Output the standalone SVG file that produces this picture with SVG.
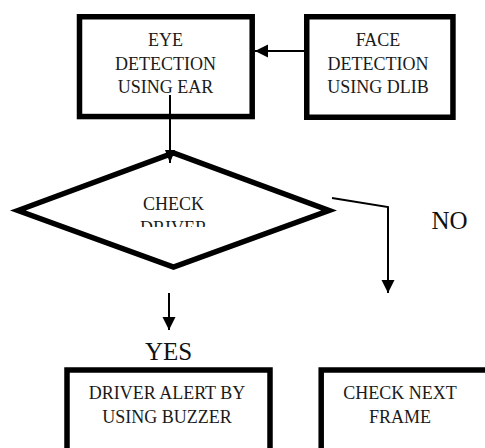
<svg xmlns="http://www.w3.org/2000/svg" width="485" height="448" viewBox="0 0 485 448">
<style>
.box{fill:#ffffff;stroke:#000000;stroke-width:5.5;stroke-linejoin:miter}
.t{font-family:"Liberation Serif","Times New Roman",serif;font-size:18px;fill:#1a1a1a;text-anchor:middle}
.big{font-family:"Liberation Serif","Times New Roman",serif;font-size:25px;fill:#111111}
.conn{fill:none;stroke:#000000;stroke-width:2}
</style>
<defs>
<marker id="ah" markerUnits="userSpaceOnUse" markerWidth="14" markerHeight="14" refX="13" refY="6.5" orient="auto">
<path d="M0,0 L13,6.5 L0,13 Z" fill="#000000"/>
</marker>
<marker id="ahn" markerUnits="userSpaceOnUse" markerWidth="14" markerHeight="12" refX="13" refY="5" orient="auto">
<path d="M0,0 L13,5 L0,10 Z" fill="#000000"/>
</marker>
<clipPath id="dclip"><rect x="0" y="0" width="485" height="227"/></clipPath>
</defs>
<rect width="485" height="448" fill="#ffffff"/>
<g id="eye">
<rect class="box" x="79.5" y="16.75" width="172.7" height="99.8"/>
<text class="t" x="165.5" y="46">EYE</text>
<text class="t" x="165.5" y="69.5">DETECTION</text>
<text class="t" x="165.5" y="93">USING EAR</text>
</g>
<g id="face">
<rect class="box" x="306.75" y="16.75" width="146.2" height="100.5"/>
<text class="t" x="378" y="46">FACE</text>
<text class="t" x="378" y="69.5">DETECTION</text>
<text class="t" x="378" y="93">USING DLIB</text>
</g>
<g id="check">
<polygon class="box" points="18,210.5 173.5,153 329,210.5 173.5,267"/>
<g clip-path="url(#dclip)">
<text class="t" x="173.5" y="210">CHECK</text>
<text class="t" x="173.5" y="234">DRIVER</text>
</g>
</g>
<g id="alert">
<rect class="box" x="67" y="370" width="203" height="100"/>
<text class="t" x="167" y="398.5">DRIVER ALERT BY</text>
<text class="t" x="167" y="423">USING BUZZER</text>
</g>
<g id="next">
<rect class="box" x="321.2" y="370" width="200" height="100"/>
<text class="t" x="400" y="398.5">CHECK NEXT</text>
<text class="t" x="400" y="423">FRAME</text>
</g>
<g id="connectors">
<line class="conn" x1="304" y1="51" x2="255" y2="51" marker-end="url(#ah)"/>
<line class="conn" x1="170" y1="95" x2="170" y2="163" marker-end="url(#ahn)"/>
<polyline class="conn" points="332,198 388,207 388,293" marker-end="url(#ah)"/>
<line class="conn" x1="169" y1="293" x2="169" y2="330" marker-end="url(#ah)"/>
<text class="big" x="431.5" y="228.5">NO</text>
<text class="big" x="168.5" y="359.5" text-anchor="middle">YES</text>
</g>
</svg>
